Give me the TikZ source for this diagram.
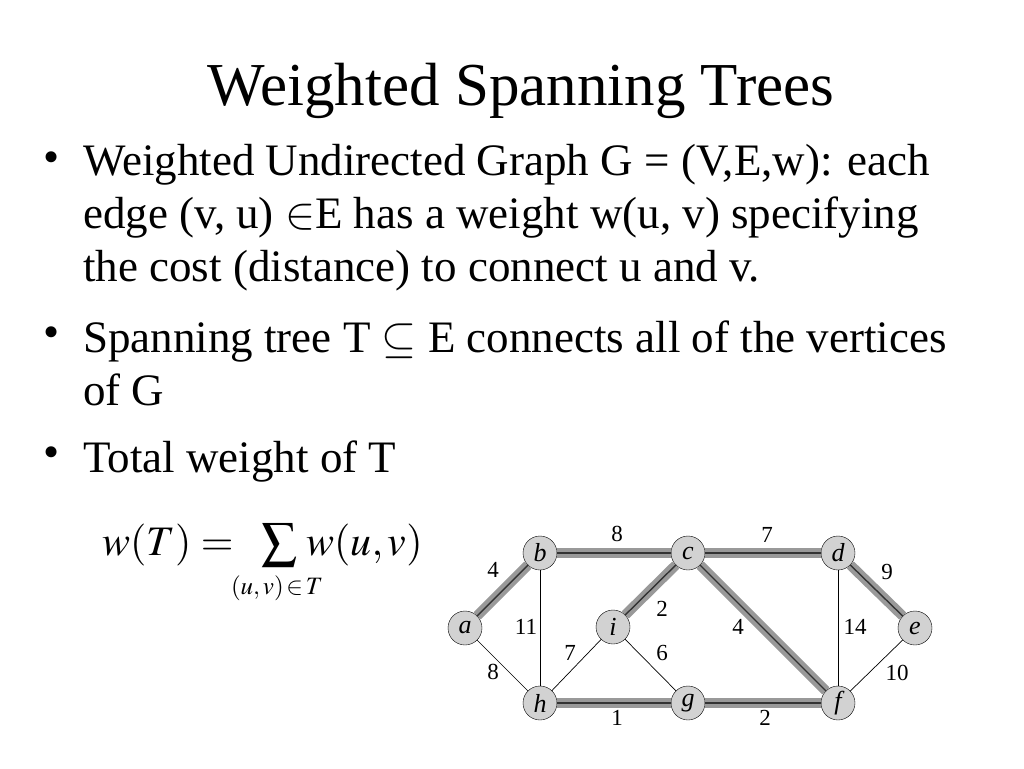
\documentclass[tikz,border=0pt]{standalone}
\usepackage{mathptmx}
\usepackage{fontspec}
\setmainfont{Liberation Serif}
\usetikzlibrary{backgrounds}

\begin{document}
\begin{tikzpicture}[line cap=round,line join=round,x=1pt,y=-1pt,
  vert/.style={circle,draw,thin,fill=gray!35,minimum size=34pt,inner sep=0pt,font=\fontsize{26}{26}\selectfont\itshape},
  plain/.style={black,line width=0.7pt},
  tree/.style={black!80,line width=1.4pt,preaction={draw,gray!80,line width=10pt,line cap=butt}},
  wt/.style={font=\fontsize{23}{23}\selectfont,inner sep=0pt},
  txt/.style={anchor=base west,inner sep=0pt,font=\fontsize{45}{53}\selectfont},
  dot/.style={inner sep=0pt,font=\fontsize{46}{53}\selectfont}]
\useasboundingbox (0,0) rectangle (1024,768);
% title and text
\node[anchor=base,inner sep=0pt,font=\fontsize{61}{70}\selectfont] (title) at (521,105) {Weighted Spanning Trees};
\node[dot] (d1) at (52,162) {\textbullet};
\node[txt] (l1) at (83,175) {Weighted Undirected Graph G = (V,E,w): each};
\node[txt] (l2) at (83,228) {edge (v, u) $\in$E has a weight w(u, v) specifying};
\node[txt] (l3) at (83,281) {the cost (distance) to connect u and v.};
\node[dot] (d2) at (52,337) {\textbullet};
\node[txt] (l4) at (83,352) {Spanning tree T $\subseteq$ E connects all of the vertices};
\node[txt] (l5) at (83,405) {of G};
\node[dot] (d3) at (52,457) {\textbullet};
\node[txt] (l6) at (83,472) {Total weight of T};
% formula
\node[anchor=base west,inner sep=0pt,font=\fontsize{42}{42}\selectfont] (fl) at (102,555) {$w(T)=$};
\node[anchor=center,inner sep=0pt,font=\fontsize{44}{44}\selectfont] (sig) at (280,545) {\scalebox{1.15}{$\sum$}};
\node[anchor=base west,inner sep=0pt,font=\fontsize{42}{42}\selectfont] (fr) at (306,555) {$w(u,v)$};
\node[anchor=base,inner sep=0pt,font=\fontsize{25}{25}\selectfont] (sub) at (277,594) {$(u,v)\!\in\! T$};
% graph
\node[vert] (a) at (465,628) {a};
\node[vert] (b) at (540,553) {b};
\node[vert] (c) at (688,553) {c};
\node[vert] (d) at (838,553) {d};
\node[vert] (e) at (915,628) {e};
\node[vert] (i) at (613,627) {i};
\node[vert] (h) at (540,703) {h};
\node[vert] (g) at (688,703) {g};
\node[vert] (f) at (838,703) {f};
\draw[plain] (b) -- (h);
\draw[plain] (a) -- (h);
\draw[plain] (h) -- (i);
\draw[plain] (i) -- (g);
\draw[plain] (d) -- (f);
\draw[plain] (e) -- (f);
\foreach \s/\t in {a/b,b/c,c/d,c/i,c/f,d/e,h/g,g/f}
\draw[tree] (\s) -- (\t);
% weights
\node[wt] (ab) at (493,570) {4};
\node[wt] (bc) at (617,534) {8};
\node[wt] (cd) at (767,535) {7};
\node[wt] (de) at (887,572) {9};
\node[wt] (bh) at (526,627) {11};
\node[wt] (ci) at (662,609) {2};
\node[wt] (cf) at (738,627) {4};
\node[wt] (df) at (855,627) {14};
\node[wt] (ah) at (493,672) {8};
\node[wt] (hi) at (570,653) {7};
\node[wt] (ig) at (662,653) {6};
\node[wt] (ef) at (897,673) {10};
\node[wt] (hg) at (617,718) {1};
\node[wt] (gf) at (765,718) {2};
\end{tikzpicture}
\end{document}
